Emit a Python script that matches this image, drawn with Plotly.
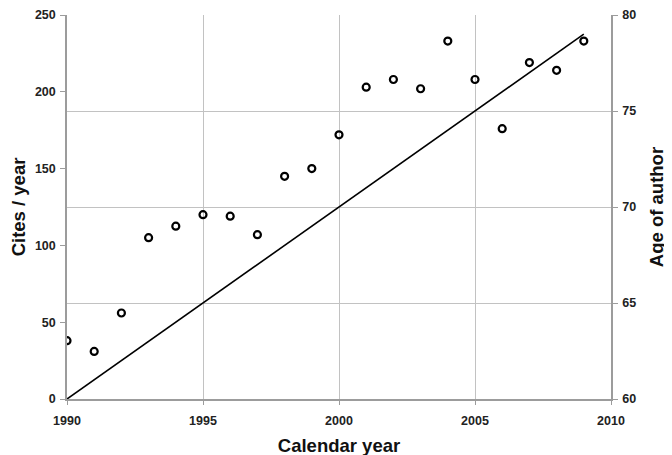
import plotly.graph_objects as go

years = [1990, 1991, 1992, 1993, 1994, 1995, 1996, 1997, 1998, 1999,
         2000, 2001, 2002, 2003, 2004, 2005, 2006, 2007, 2008, 2009]
cites = [38, 31, 56, 105, 112.5, 120, 119, 107, 145, 150,
         172, 203, 208, 202, 233, 208, 176, 219, 214, 233]
age_years = [1990, 2009]
ages = [60, 79]

x_ticks = [1990, 1995, 2000, 2005, 2010]
cite_ticks = [0, 50, 100, 150, 200, 250]
age_ticks = [60, 65, 70, 75, 80]
age_grid = [65, 70, 75]

FONT = "Arial, Liberation Sans, sans-serif"
AX = "#9c9c9c"
GRID = "#c2c2c2"

fig = go.Figure()
fig.add_trace(go.Scatter(x=[None], y=[None], yaxis="y3", showlegend=False,
                         hoverinfo="skip"))
fig.add_trace(go.Scatter(x=age_years, y=ages, mode="lines",
                         line=dict(color="black", width=1.6),
                         yaxis="y", showlegend=False, hoverinfo="skip"))
fig.add_trace(go.Scatter(x=years, y=cites, mode="markers",
                         marker=dict(symbol="circle-open", size=7, color="black",
                                     line=dict(width=2.2, color="black")),
                         yaxis="y2", showlegend=False))

tickfont = dict(family=FONT, size=12.5, color="#222", weight="bold")
titlefont = dict(family=FONT, size=18.5, color="#111", weight="bold")

fig.update_layout(
    width=672, height=455,
    margin=dict(l=59, r=69, t=7, b=64),
    plot_bgcolor="white", paper_bgcolor="white",
    xaxis=dict(range=[1990, 2010], tickvals=x_ticks, showgrid=True,
               gridcolor=GRID, gridwidth=1, zeroline=False, automargin=False,
               showline=True, linecolor=AX, linewidth=1.5,
               ticks="outside", ticklen=4, tickcolor=AX,
               tickfont=tickfont, ticklabelstandoff=5,
               title=dict(text="Calendar year", font=titlefont, standoff=12)),
    yaxis=dict(range=[60, 80], tickvals=age_ticks, side="right",
               showgrid=False, zeroline=False, automargin=False,
               showline=True, linecolor=AX, linewidth=1.5,
               ticks="outside", ticklen=5, tickcolor=AX,
               tickfont=tickfont, ticklabelstandoff=2,
               title=dict(text="Age of author", font=titlefont, standoff=15)),
    yaxis2=dict(range=[0, 250], tickvals=cite_ticks, side="left",
                overlaying="y", showgrid=False, zeroline=False, automargin=False,
                showline=True, linecolor=AX, linewidth=1.5,
                ticks="outside", ticklen=5, tickcolor=AX,
                tickfont=tickfont, ticklabelstandoff=2,
                title=dict(text="Cites / year", font=titlefont, standoff=13)),
    yaxis3=dict(range=[60, 80], tickvals=age_grid, overlaying="y",
                showgrid=True, gridcolor=GRID, gridwidth=1, automargin=False,
                showticklabels=False, zeroline=False, showline=False),
)

fig.write_html("out.html")
